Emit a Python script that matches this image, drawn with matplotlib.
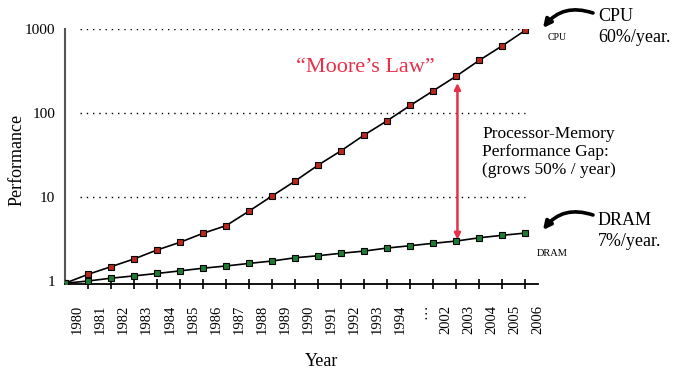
import matplotlib
matplotlib.use("Agg")
import matplotlib.pyplot as plt

plt.rcParams['font.family'] = ['Liberation Serif', 'DejaVu Serif']

# data (index = point position on the x axis)
year_labels = ['1980', '1981', '1982', '1983', '1984', '1985', '1986', '1987',
               '1988', '1989', '1990', '1991', '1992', '1993', '1994', '…',
               '2002', '2003', '2004', '2005', '2006']
cpu = [0.94, 1.2, 1.48, 1.83, 2.34, 2.89, 3.7, 4.56, 6.8, 10.3, 15.5, 24,
       35.6, 54.7, 81, 123, 184, 275, 424, 632, 966]
dram = [0.94, 1.0, 1.08, 1.15, 1.23, 1.32, 1.42, 1.51, 1.62, 1.73, 1.89, 2.0,
        2.14, 2.27, 2.47, 2.63, 2.81, 2.99, 3.27, 3.5, 3.72]
grid_vals = [10, 100, 1000]
ytick_vals = [1, 10, 100, 1000]

red = '#e8304a'
W, H = 680, 377

fig = plt.figure(figsize=(6.8, 3.77), dpi=100)
ax = fig.add_axes([65 / W, 1 - 284 / H, 473 / W, 255 / H])

x = list(range(len(cpu)))
ax.set_yscale('log')
ax.set_ylim(0.921, 1000)
ax.set_xlim(0, 20.04)

ax.hlines(grid_vals, 0.64, 20, colors='black', linestyles=(0, (1, 3.5)), lw=1.0)

ax.plot(x, cpu, color='black', lw=1.2, marker='s', ms=4.8, mfc='#b8281c',
        mec='black', mew=0.8, zorder=3)
ax.plot(x, dram, color='black', lw=1.2, marker='s', ms=4.8, mfc='#1f7a33',
        mec='black', mew=0.8, zorder=3)

for s in ['top', 'right']:
    ax.spines[s].set_visible(False)
ax.spines['left'].set_color('#555555')
ax.spines['left'].set_linewidth(1.5)
ax.spines['bottom'].set_linewidth(1.3)

ax.set_yticks(ytick_vals)
ax.set_yticklabels([str(v) for v in ytick_vals])
ax.yaxis.set_minor_locator(matplotlib.ticker.NullLocator())
ax.tick_params(axis='y', length=0, pad=7, labelsize=11)

ax.set_xticks(x[1:])
ax.set_xticklabels([])
ax.set_xticks([i + 0.55 for i in x], year_labels, minor=True)
ax.tick_params(axis='x', which='major', direction='inout', length=7, width=1.2)
ax.tick_params(axis='x', which='minor', length=0, pad=15, rotation=90, labelsize=10.5)

# red gap arrow
ax.annotate('', xy=(17.05, cpu[17]), xytext=(17.05, dram[17]),
            arrowprops=dict(arrowstyle='<|-|>', color=red, lw=1.8,
                            shrinkA=1, shrinkB=5, mutation_scale=9))

fig.text(365 / W, 1 - 68 / H, '“Moore’s Law”', color=red, fontsize=16,
         ha='center', va='center')
fig.text(548 / W, 1 - 37 / H, 'CPU', fontsize=7, ha='left', va='center')
fig.text(537 / W, 1 - 254 / H, 'DRAM', fontsize=7.5, ha='left', va='center')
fig.text(598 / W, 1 - 27 / H, 'CPU\n60%/year.', fontsize=13, ha='left',
         va='center', linespacing=1.25)
fig.text(598 / W, 1 - 231 / H, 'DRAM\n7%/year.', fontsize=13, ha='left',
         va='center', linespacing=1.25)
fig.text(482 / W, 1 - 152 / H,
         'Processor-Memory\nPerformance Gap:\n(grows 50% / year)',
         fontsize=12.5, ha='left', va='center', linespacing=1.2)

for y0 in [13, 215]:
    ax.annotate('', xy=(543 / W, 1 - (y0 + 15) / H), xycoords='figure fraction',
                xytext=(593 / W, 1 - y0 / H), textcoords='figure fraction',
                arrowprops=dict(arrowstyle='-|>', color='black', lw=2.6,
                                mutation_scale=12, shrinkA=0, shrinkB=0,
                                connectionstyle='arc3,rad=0.35'))

fig.text(322 / W, 1 - 362 / H, 'Year', fontsize=13, ha='center', va='center')
fig.text(17 / W, 1 - 160 / H, 'Performance', fontsize=13, ha='center',
         va='center', rotation=90)

fig.savefig('out.png', dpi=100)
